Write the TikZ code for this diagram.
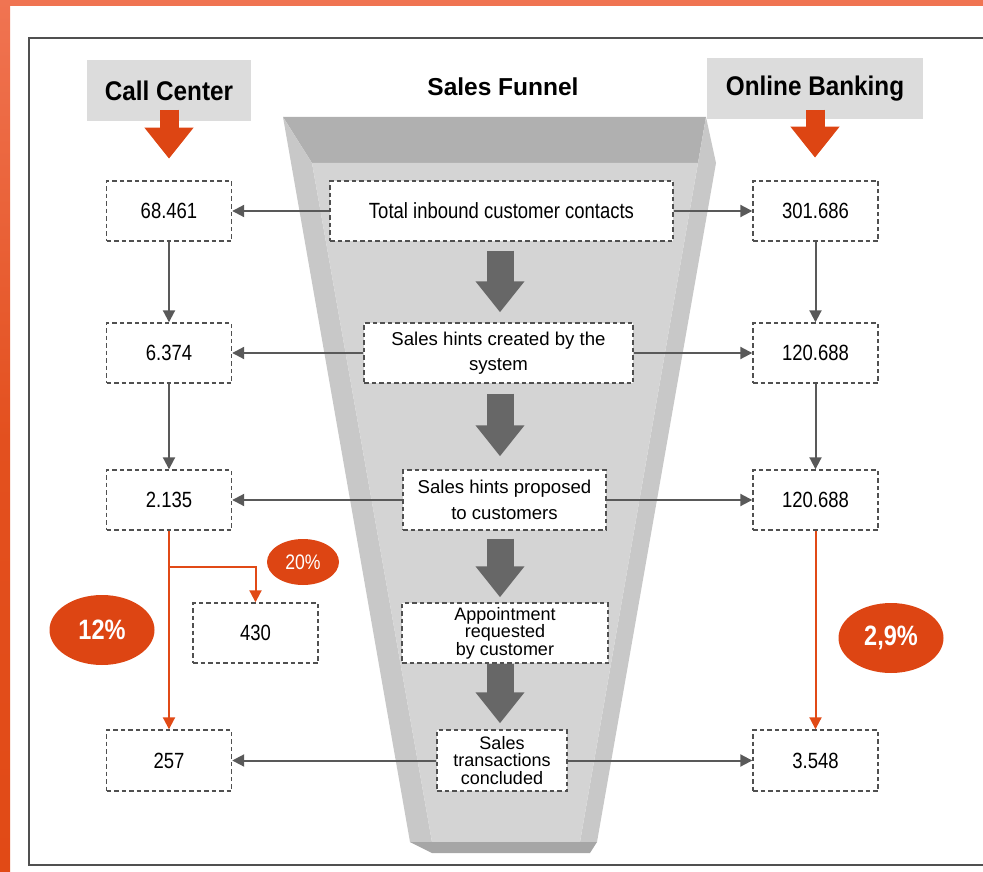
\documentclass[tikz,border=0pt]{standalone}
\usepackage{fontspec}
\setmainfont{Liberation Sans}
\newfontfamily\narrowsans{Liberation Sans}[FakeStretch=0.84]
\newfontfamily\headsans{Liberation Sans}[FakeStretch=0.9]
\usetikzlibrary{arrows.meta,positioning,shapes.geometric,calc}
\definecolor{Coral}{HTML}{F07452}
\definecolor{Ember}{HTML}{E14A16}
\definecolor{Rust}{HTML}{DD4513}
\definecolor{Ash}{HTML}{DCDCDC}
\definecolor{Graphite}{HTML}{595959}
\definecolor{Steel}{HTML}{676767}
\definecolor{Dash}{HTML}{505050}
\definecolor{FunTop}{HTML}{B0B0B0}
\definecolor{FunSide}{HTML}{C8C8C8}
\definecolor{FunFace}{HTML}{D4D4D4}
\definecolor{FunBase}{HTML}{A6A6A6}
\tikzset{
  numbox/.style={draw=Dash, dash pattern=on 4.5pt off 3pt, line width=1.4pt,
    fill=white, minimum width=125pt, minimum height=60pt, inner sep=0pt,
    font=\narrowsans\fontsize{22}{24}\selectfont},
  stagebox/.style={numbox, minimum width=#1, align=center,
    font=\fontsize{18.6}{25.5}\selectfont},
  headbox/.style={fill=Ash, minimum height=61pt, inner sep=0pt,
    font=\headsans\bfseries\fontsize{27}{30}\selectfont},
  pctblob/.style={ellipse, fill=Rust, text=white, minimum width=105pt,
    minimum height=70pt, inner sep=0pt,
    font=\narrowsans\bfseries\fontsize{28}{30}\selectfont},
  link/.style={draw=Graphite, line width=2pt, -{Triangle[length=12pt,width=12pt]}},
  orlink/.style={link, draw=Ember},
  fatarr/.style={draw=Steel, line width=27pt, -{Triangle[length=31pt,width=47pt]}},
  hdarr/.style={draw=Rust, line width=19pt, -{Triangle[length=31pt,width=47pt]}},
}
\begin{document}
\begin{tikzpicture}[x=1pt,y=-1pt]
  \useasboundingbox (0,0) rectangle (983,872);
  % page frame
  \fill[Coral] (0,0) rectangle (983,6);
  \shade[top color=Coral, bottom color=Ember, middle color=Ember!85!Coral] (0,0) rectangle (10,872);
  \draw[Dash, line width=1.5pt] (983,38) -- (29,38) -- (29,865) -- (983,865);

  % funnel
  \fill[FunTop] (283,117) -- (706,117) -- (698,163) -- (312,163) -- cycle;
  \fill[FunSide] (283,117) -- (312,163) -- (432,842) -- (410,842) -- cycle;
  \fill[FunSide] (706,117) -- (716,163) -- (597,842) -- (580,842) -- (698,163) -- cycle;
  \fill[FunFace] (312,163) -- (698,163) -- (580,842) -- (432,842) -- cycle;
  \fill[FunBase] (410,842) -- (597,842) -- (590,853) -- (432,853) -- cycle;
  \coordinate (axis) at (500,0);

  % headers
  \node[headbox, minimum width=164pt] (callhd) at (169,91) {Call Center};
  \node[headbox, minimum width=216pt] (bankhd) at (815,89) {Online Banking};
  \node[font=\bfseries\fontsize{24.5}{26}\selectfont] (title) at (503,87) {Sales Funnel};
  \draw[hdarr] ([yshift=12pt]callhd.south) -- ([yshift=-37pt]callhd.south);
  \draw[hdarr] ([yshift=10pt]bankhd.south) -- ([yshift=-38pt]bankhd.south);

  % funnel stages
  \node[stagebox=343pt, font=\narrowsans\fontsize{22}{24}\selectfont] (fun1) at (501.5,211) {Total inbound customer contacts};
  \node[stagebox=269pt] (fun2) at (498.5,353) {Sales hints created by the\\system};
  \node[stagebox=203pt] (fun3) at (504.5,500) {Sales hints proposed\\to customers};
  \node[stagebox=206pt, font=\fontsize{18}{17.5}\selectfont] (fun4) at (505,633) {Appointment\\requested\\by customer};
  \node[stagebox=130pt, minimum height=61pt, font=\fontsize{18}{17.5}\selectfont] (fun5) at (502,760.5) {Sales\\transactions\\concluded};

  \draw[fatarr] ($(fun1.south -| axis)+(0,9)$) -- ($(fun2.north -| axis)+(0,-10)$);
  \draw[fatarr] ($(fun2.south -| axis)+(0,10)$) -- ($(fun3.north -| axis)+(0,-13)$);
  \draw[fatarr] ($(fun3.south -| axis)+(0,8)$) -- ($(fun4.north -| axis)+(0,-5)$);
  \draw[fatarr] (fun4.south -| axis) -- ($(fun5.north -| axis)+(0,-6)$);

  % call center column
  \node[numbox] (call1) at (169,211) {68.461};
  \node[numbox] (call2) at (169,353) {6.374};
  \node[numbox] (call3) at (169,500) {2.135};
  \node[numbox] (call430) at (255.5,633) {430};
  \node[numbox, minimum height=61pt] (call4) at (169,760.5) {257};

  % online banking column
  \node[numbox] (bank1) at (815.5,211) {301.686};
  \node[numbox] (bank2) at (815.5,353) {120.688};
  \node[numbox] (bank3) at (815.5,500) {120.688};
  \node[numbox, minimum height=61pt] (bank4) at (815.5,760.5) {3.548};

  \draw[link] (fun1) -- (call1);
  \draw[link] (fun2) -- (call2);
  \draw[link] (fun3) -- (call3);
  \draw[link] (fun5) -- (call4);
  \draw[link] (fun1) -- (bank1);
  \draw[link] (fun2) -- (bank2);
  \draw[link] (fun3) -- (bank3);
  \draw[link] (fun5) -- (bank4);

  \draw[link] (call1) -- (call2);
  \draw[link] (call2) -- (call3);
  \draw[link] (bank1) -- (bank2);
  \draw[link] (bank2) -- (bank3);

  % conversion paths
  \coordinate (fork) at (169,567);
  \draw[orlink] (call3) -- (call4);
  \draw[orlink] (fork) -| (call430);
  \draw[orlink] (bank3) -- (bank4);

  \node[pctblob] (pct12) at (102,630) {12\%};
  \node[pctblob, minimum width=72pt, minimum height=46pt,
    font=\narrowsans\fontsize{21}{23}\selectfont] (pct20) at (303,562) {20\%};
  \node[pctblob] (pct29) at (891,638) {2,9\%};
\end{tikzpicture}
\end{document}
